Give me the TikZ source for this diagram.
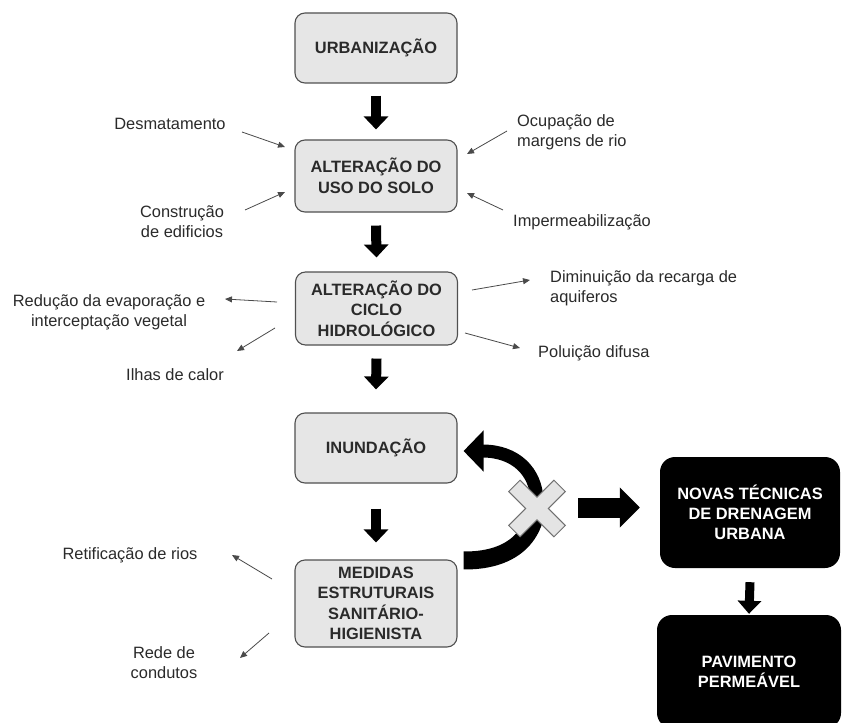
\documentclass[tikz,border=0pt]{standalone}
\usepackage{fontspec}
\setmainfont{Liberation Sans}
\usetikzlibrary{arrows.meta,calc}
\definecolor{boxfill}{HTML}{E6E6E6}
\definecolor{boxline}{HTML}{505050}
\definecolor{txt}{HTML}{2A2A2A}
\definecolor{xfill}{HTML}{E4E4E4}
\definecolor{xline}{HTML}{707070}
\begin{document}
\begin{tikzpicture}[x=1pt,y=-1pt,
  gbox/.style={draw=boxline, line width=1.1pt, fill=boxfill, rounded corners=10pt,
    minimum width=162pt, align=center, text=txt, inner sep=0pt,
    font=\bfseries\fontsize{16.4}{20.5}\selectfont},
  kbox/.style={fill=black, rounded corners=15pt, align=center, text=white, inner sep=0pt,
    font=\bfseries\fontsize{16.4}{20}\selectfont},
  lbl/.style={font=\fontsize{16.4}{20}\selectfont, text=txt, inner sep=0pt},
  blk/.style={line width=10pt, -{Triangle[length=13pt,width=24pt]}},
  thinarrow/.style={draw=txt!85, line width=0.8pt, -{Triangle[length=7pt,width=6pt]}}
]
\useasboundingbox (0,0) rectangle (842,722);
\fill[white] (0,0) rectangle (842,722);

% main boxes
\node[gbox, minimum height=70pt] (b1) at (376,48) {URBANIZAÇÃO};
\node[gbox, minimum height=72pt] (b2) at (376,176) {ALTERAÇÃO DO\\USO DO SOLO};
\node[gbox, minimum height=73pt] (b3) at (376.5,308.5) {ALTERAÇÃO DO\\CICLO\\HIDROLÓGICO};
\node[gbox, minimum height=70pt] (b4) at (376,448) {INUNDAÇÃO};
\node[gbox, minimum height=87pt] (b5) at (376,603.5) {MEDIDAS\\ESTRUTURAIS\\SANITÁRIO-\\HIGIENISTA};
\node[kbox, minimum width=180pt, minimum height=111pt] (n1) at (750,512.5) {NOVAS TÉCNICAS\\DE DRENAGEM\\URBANA};
\node[kbox, minimum width=184pt, minimum height=113pt] (n2) at (749,671.5) {PAVIMENTO\\PERMEÁVEL};

% block arrows
\draw[blk] ([yshift=-12pt]b1.south) -- ([yshift=10pt]b2.north);
\draw[blk] ([yshift=-13pt]b2.south) -- ([yshift=14pt]b3.north);
\draw[blk] ([yshift=-13pt]b3.south) -- ([yshift=23pt]b4.north);
\draw[blk] ([yshift=-25pt]b4.south) -- ([yshift=17pt]b5.north);
\draw[line width=9pt, -{Triangle[length=13pt,width=23pt]}] ([yshift=-14pt]n1.south) -- ([yshift=1pt]n2.north);

% curved return arrow with cross
\coordinate (xc) at (537,508.5);
\coordinate (cstart) at ($(b5.north east)+(6,1)$);
\coordinate (cmid) at (537,500);
\coordinate (cend) at ($(b4.east)+(6,3)$);
\draw[line width=18pt] (cstart) .. controls (508,561) and (536,540) .. (cmid);
\draw[line width=13pt, -{Triangle[length=20pt,width=40pt]}] (cmid) .. controls (536,472) and (516,451) .. (cend);
\draw[fill=xfill, draw=xline, line width=1pt, shift={(xc)}, rotate=45]
  (8,8) -- (8,32) -- (-8,32) -- (-8,8) -- (-32,8) -- (-32,-8) -- (-8,-8) -- (-8,-32)
  -- (8,-32) -- (8,-8) -- (32,-8) -- (32,8) -- cycle;
% arrow to new techniques
\coordinate (ha) at ($(xc)+(41,-1)$);
\draw[line width=20pt, -{Triangle[length=20pt,width=39pt]}] (ha) -- ([xshift=-20pt]n1.west |- ha);

% side labels
\node[lbl] (desm) at (170,124) {Desmatamento};
\node[lbl, align=center] (constr) at (182,222) {Construção\\de edificios};
\node[lbl, align=center] (reduc) at (109,312) {Redução da evaporação e\\interceptação vegetal};
\node[lbl] (ilhas) at (175,375) {Ilhas de calor};
\node[lbl, align=left, anchor=west] (ocup) at (517,132) {Ocupação de\\margens de rio};
\node[lbl, anchor=west] (imper) at (513,222) {Impermeabilização};
\node[lbl, align=left, anchor=west] (dimin) at (550,288) {Diminuição da recarga de\\aquiferos};
\node[lbl, anchor=west] (polu) at (538,353) {Poluição difusa};
\node[lbl] (retif) at (130,555) {Retificação de rios};
\node[lbl, align=center] (rede) at (164,663) {Rede de\\condutos};

% thin arrows
\coordinate (desmA) at (242,132); \coordinate (desmB) at (285,147);
\coordinate (constrA) at (245,210); \coordinate (constrB) at (285,192);
\coordinate (reducA) at (277,302); \coordinate (reducB) at (225,299);
\coordinate (ilhasA) at (275,328); \coordinate (ilhasB) at (237,351);
\coordinate (ocupA) at (507,131); \coordinate (ocupB) at (467,154);
\coordinate (imperA) at (503,210); \coordinate (imperB) at (467,193);
\coordinate (diminA) at (472,290); \coordinate (diminB) at (530,280);
\coordinate (poluA) at (465,333); \coordinate (poluB) at (520,348);
\coordinate (retifA) at (272,579); \coordinate (retifB) at (232,555);
\coordinate (redeA) at (269,633); \coordinate (redeB) at (240,658);
\draw[thinarrow] (desmA) -- (desmB);
\draw[thinarrow] (constrA) -- (constrB);
\draw[thinarrow] (reducA) -- (reducB);
\draw[thinarrow] (ilhasA) -- (ilhasB);
\draw[thinarrow] (ocupA) -- (ocupB);
\draw[thinarrow] (imperA) -- (imperB);
\draw[thinarrow] (diminA) -- (diminB);
\draw[thinarrow] (poluA) -- (poluB);
\draw[thinarrow] (retifA) -- (retifB);
\draw[thinarrow] (redeA) -- (redeB);
\end{tikzpicture}
\end{document}
